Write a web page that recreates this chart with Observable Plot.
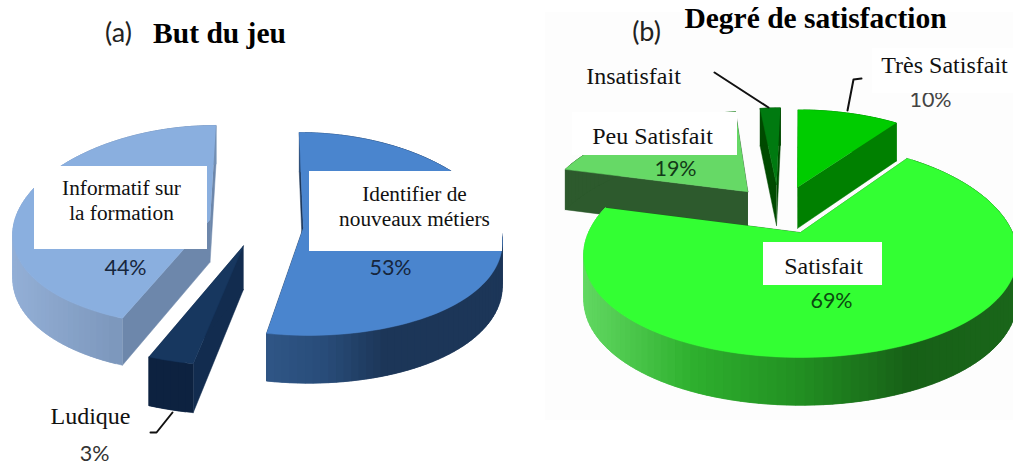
<!DOCTYPE html>
<html><head><meta charset="utf-8">
<script src="https://cdn.jsdelivr.net/npm/d3@7"></script>
<script src="https://cdn.jsdelivr.net/npm/@observablehq/plot@0.6"></script>
<style>html,body{margin:0;padding:0;background:#fff}svg{display:block}</style>
</head><body><div id="chart"></div>
<script>
// ---- data ----
const butLabels = ["Identifier de nouveaux métiers", "Ludique", "Informatif sur la formation"];
const butValues = [53, 3, 44];
const satLabels = ["Très Satisfait", "Satisfait", "Peu Satisfait", "Insatisfait"];
const satValues = [10, 69, 19, 2];

// ---- 3D camera of each pie ----
const cameraA = {cx: 265, cy: 227, rx: 197, ry: 101, p: 0.12, q: 0.064, d: 43, dp: 0.1};
const cameraB = {cx: 800, cy: 232, rx: 212, ry: 104, p: 0.21, q: 0.168, d: 43, dp: 0.1};

// ---- per-slice explosion and colours (same order as the values) ----
const butStyle = [
  {ou: 0.192, ov: 0, r: 1, top: "#4a85ce", cut: "#1c3658", side: ["#2f5686", "#284c79", "#1c3658", "#1c3658", "#1c3658"]},
  {ou: -0.11, ov: 0.18, r: 1.08, top: "#17375f", cut: "#122c4f", side: ["#0d2240", "#0d2240"]},
  {ou: -0.284, ov: -0.08, r: 1, top: "#8aafdf", cut: "#6d87ab", side: ["#93afd6", "#7d98bd", "#7490b5"]}
];
const satStyle = [
  {ou: -0.015, ov: -0.47, r: 1, top: "#00cc00", cut: "#008000", side: ["#008000", "#008000"]},
  {ou: 0, ov: 0, r: 1, top: "#33ff33", cut: "#1a661a", side: ["#62d862", "#2eb02e", "#228f22", "#176017", "#1a661a"]},
  {ou: -0.27, ov: -0.42, r: 1.03, top: "#66d966", cut: "#2d5a2d", side: ["#2d5a2d", "#2d5a2d"]},
  {ou: -0.125, ov: -0.5, r: 1, top: "#007a10", cut: "#004a00", side: ["#004a00", "#004a00"]}
];

// Builds filled polygons for a pie, from the share of each slice
function project(c, U, V, drop) {
  return {
    x: c.cx + c.rx * U / (1 - c.p * V),
    y: c.cy + c.ry * V / (1 - c.q * V) + (drop ? c.d / (1 - c.dp * V) : 0)
  };
}
function slicePolys(values, styles, cam, order, prefix) {
  const total = d3.sum(values), rows = [];
  const ends = d3.cumsum(values).map(v => v / total * 2 * Math.PI);
  const add = (id, fill, pts) => pts.forEach(pt => rows.push({id, fill, x: pt.x, y: pt.y}));
  for (const i of order) {
    const st = styles[i];
    const a0 = i ? ends[i - 1] : 0, a1 = ends[i];
    const n = Math.max(2, Math.ceil((a1 - a0) / (Math.PI / 90)));
    const world = a => [st.ou + st.r * Math.sin(a), st.ov - st.r * Math.cos(a)];
    const ang = d3.range(n + 1).map(k => a0 + (a1 - a0) * k / n);
    const at = (a, drop) => project(cam, ...world(a), drop);
    const apex = [st.ou, st.ov];
    const key = prefix + i;
    // radial cut faces
    for (const [name, a] of [["s", a0], ["e", a1]])
      add(key + name, st.cut, [project(cam, ...apex, false), at(a, false), at(a, true), project(cam, ...apex, true)]);
    // outer wall, shaded across its screen width; each strip overlaps the next to hide seams
    const xs = ang.map(a => at(a, false).x);
    const [xmin, xmax] = d3.extent(xs);
    const shade = d3.piecewise(d3.interpolateRgb, st.side);
    for (let k = 0; k < n; k++) {
      const t = ((xs[k] + xs[k + 1]) / 2 - xmin) / (xmax - xmin || 1);
      const far = ang[Math.min(n, k + 2)];
      add(key + "w" + k, d3.rgb(shade(t)).formatHex(),
        [at(ang[k], false), at(far, false), at(far, true), at(ang[k], true)]);
    }
    // top face
    add(key + "t", st.top, [project(cam, ...apex, false), ...ang.map(a => at(a, false))]);
  }
  return rows;
}

const polygons = [
  ...slicePolys(butValues, butStyle, cameraA, [2, 1, 0], "a"),
  ...slicePolys(satValues, satStyle, cameraB, [3, 0, 2, 1], "b")
];

// ---- annotation layout ----
const panel = [{x1: 545, x2: 1013, y1: 12, y2: 420}];
const maskBox = [{x1: 872, x2: 1013, y1: 48, y2: 93}];
const boxes = [
  {x1: 34, x2: 207, y1: 166, y2: 249},
  {x1: 309, x2: 502, y1: 171, y2: 251},
  {x1: 572, x2: 737, y1: 112, y2: 155},
  {x1: 763, x2: 882, y1: 242, y2: 285}
];
const leaders = [
  {id: 1, x: 714, y: 72}, {id: 1, x: 768, y: 107},
  {id: 2, x: 847, y: 110}, {id: 2, x: 853, y: 79}, {id: 2, x: 861, y: 78},
  {id: 3, x: 150, y: 432}, {id: 3, x: 156, y: 432}, {id: 3, x: 172, y: 412}
];
const percents = [
  {t: butValues[0] + "%", x: 390, y: 268, c: "#16263c"},
  {t: butValues[1] + "%", x: 94, y: 454, c: "#333"},
  {t: butValues[2] + "%", x: 125, y: 268, c: "#16263c"},
  {t: satValues[0] + "%", x: 930, y: 100, c: "#444"},
  {t: satValues[1] + "%", x: 831, y: 301, c: "#0b4a10"},
  {t: satValues[2] + "%", x: 675, y: 169, c: "#123a18"}
];
const boxNames = [
  {t: "Informatif sur", x: 121, y: 188}, {t: "la formation", x: 121, y: 213},
  {t: "Identifier de", x: 414, y: 194}, {t: "nouveaux métiers", x: 414, y: 219}
];
const names = [
  {t: butLabels[1], x: 90, y: 416},
  {t: satLabels[0], x: 944, y: 65}, {t: satLabels[1], x: 823, y: 266},
  {t: satLabels[2], x: 652, y: 136}, {t: satLabels[3], x: 633, y: 76}
];
const titles = [{t: "But du jeu", x: 219, y: 33}, {t: "Degré de satisfaction", x: 815, y: 18}];
const tags = [{t: "(a)", x: 118, y: 33}, {t: "(b)", x: 646, y: 32}];

const serif = "'Liberation Serif', serif", sans = "Lato, 'Open Sans', sans-serif";
const tx = {x: "x", y: "y", text: "t", lineAnchor: "middle", textAnchor: "middle"};
const fig = Plot.plot({
  width: 1013, height: 466,
  margin: 0,
  x: {domain: [0, 1013], range: [0, 1013], axis: null},
  y: {domain: [0, 466], range: [0, 466], axis: null},
  style: {background: "#fff"},
  marks: [
    Plot.rect(panel, {x1: "x1", x2: "x2", y1: "y1", y2: "y2", fill: "#fdfdfd"}),
    Plot.line(polygons, {x: "x", y: "y", z: "id",
      fill: {value: "fill", scale: null}, stroke: {value: "fill", scale: null}, strokeWidth: 0.5}),
    Plot.text(percents, {...tx, fill: {value: "c", scale: null}, fontFamily: sans, fontSize: 21.5}),
    Plot.rect(maskBox, {x1: "x1", x2: "x2", y1: "y1", y2: "y2", fill: "#fff"}),
    Plot.rect(boxes, {x1: "x1", x2: "x2", y1: "y1", y2: "y2", fill: "#fff"}),
    Plot.line(leaders, {x: "x", y: "y", z: "id", stroke: "#111", strokeWidth: 2}),
    Plot.text(boxNames, {...tx, fill: "#111", fontFamily: serif, fontSize: 21.3}),
    Plot.text(names, {...tx, fill: "#111", fontFamily: serif, fontSize: 24}),
    Plot.text(titles, {...tx, fill: "#000", fontFamily: serif, fontWeight: "bold", fontSize: 29.5}),
    Plot.text(tags, {...tx, fill: "#222", fontFamily: sans, fontSize: 27})
  ]
});
document.getElementById("chart").append(fig);
</script></body></html>
